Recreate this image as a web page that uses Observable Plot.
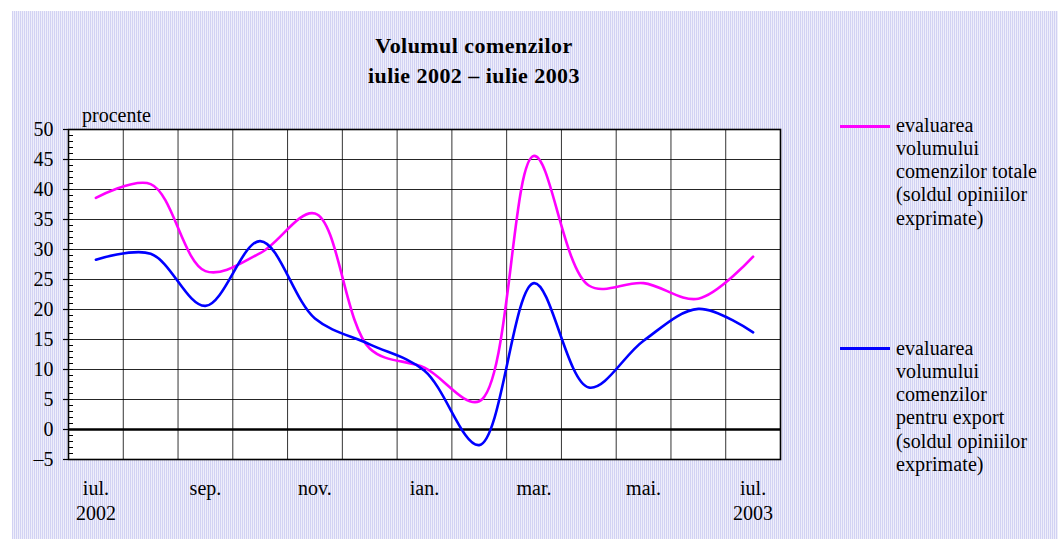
<!DOCTYPE html>
<html><head><meta charset="utf-8">
<script src="https://cdn.jsdelivr.net/npm/d3@7"></script>
<script src="https://cdn.jsdelivr.net/npm/@observablehq/plot@0.6"></script>
<style>
body{margin:0;background:#fff;}
#wrap{position:relative;width:1061px;height:542px;font-family:"Liberation Serif","Times New Roman",serif;color:#000;overflow:hidden;}
#bg{position:absolute;left:12px;top:11px;right:3px;bottom:3px;background-color:#eeeefb;background-image:repeating-linear-gradient(90deg,#d2d2f3 0 1px,transparent 1px 2px);}
#chart{position:absolute;left:0;top:0;}
.title{position:absolute;left:0;width:948px;text-align:center;top:31px;font-weight:bold;font-size:22px;line-height:30px;letter-spacing:0.45px;}
.leg{position:absolute;font-size:20px;line-height:23.3px;white-space:nowrap;letter-spacing:0.1px;}
.sw{position:absolute;width:50px;height:2.5px;}
.unit{position:absolute;left:82px;top:105px;font-size:20px;line-height:20px;}
</style></head>
<body>
<div id="wrap">
  <div id="bg"></div>
  <div id="chart"></div>
  <div class="title">Volumul comenzilor<br>iulie 2002 – iulie 2003</div>
  <div class="unit">procente</div>
  <div class="sw" style="left:840px;top:125px;background:#ff00ff"></div>
  <div class="leg" style="left:896px;top:113.5px">evaluarea<br>volumului<br>comenzilor totale<br>(soldul opiniilor<br>exprimate)</div>
  <div class="sw" style="left:840px;top:347px;background:#0000ff"></div>
  <div class="leg" style="left:896px;top:336.5px">evaluarea<br>volumului<br>comenzilor<br>pentru export<br>(soldul opiniilor<br>exprimate)</div>
</div>
<script>
// Data
const months = ["iul.","aug.","sep.","oct.","nov.","dec.","ian.","feb.","mar.","apr.","mai.","iun.","iul."];
const years  = ["2002","","","","","","","","","","","","2003"];
const labelledMonths = [0, 2, 4, 6, 8, 10, 12];
const totale = [38.6, 40.9, 26.4, 29.4, 36.0, 13.5, 10.3, 4.7, 45.6, 24.0, 24.4, 21.8, 28.8];
const exportv = [28.3, 29.3, 20.6, 31.4, 18.5, 14.2, 9.8, -2.6, 24.4, 7.0, 14.8, 20.1, 16.2];
const yTicks = [-5, 0, 5, 10, 15, 20, 25, 30, 35, 40, 45, 50];
const yMinor = d3.range(-5, 51, 1);

const idx = months.map((_, i) => i);
const rowsT = idx.map(i => ({i, v: totale[i]}));
const rowsE = idx.map(i => ({i, v: exportv[i]}));
const boundaries = d3.range(0, months.length + 1).map(k => k - 0.5);
const yearIdx = idx.filter(i => years[i] !== "");

const font = '"Liberation Serif","Times New Roman",serif';
const chart = Plot.plot({
  width: 1061, height: 542,
  marginLeft: 68, marginRight: 281, marginTop: 129, marginBottom: 83,
  style: {background: "transparent", fontFamily: font, fontSize: "20px", color: "#000", overflow: "visible"},
  x: {type: "linear", domain: [-0.5, months.length - 0.5], axis: null, label: null},
  y: {domain: [-5, 50], axis: null, label: null},
  marks: [
    Plot.frame({fill: "white", stroke: null}),
    Plot.gridY(yTicks, {stroke: "#000", strokeOpacity: 0.85, strokeWidth: 1}),
    Plot.ruleX(boundaries, {stroke: "#000", strokeOpacity: 0.8, strokeWidth: 1}),
    Plot.tickY(yMinor, {y: d => d, insetRight: 707, stroke: "#000", strokeWidth: 1}),
    Plot.axisY(yTicks, {label: null, tickSize: 5, tickPadding: 10, fontSize: 20, stroke: "#000", strokeWidth: 1.2,
      tickFormat: d => d < 0 ? "–" + Math.abs(d) : String(d)}),
    Plot.ruleY([0], {stroke: "#000", strokeWidth: 2.5}),
    Plot.line(rowsT, {x: "i", y: "v", stroke: "#ff00ff", strokeWidth: 2.6, curve: "catmull-rom"}),
    Plot.line(rowsE, {x: "i", y: "v", stroke: "#0000ff", strokeWidth: 2.6, curve: "catmull-rom"}),
    Plot.frame({stroke: "#000", strokeWidth: 1.6}),
    Plot.text(labelledMonths, {x: d => d, text: d => months[d], frameAnchor: "bottom", dy: 35.5, fontSize: 20, fill: "#000"}),
    Plot.text(yearIdx, {x: d => d, text: d => years[d], frameAnchor: "bottom", dy: 60, fontSize: 20, fill: "#000"})
  ]
});
document.getElementById("chart").appendChild(chart);
</script>
</body></html>
